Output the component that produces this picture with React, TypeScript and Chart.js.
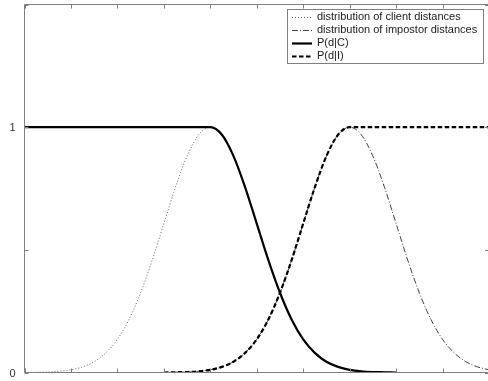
import React, { useEffect, useRef } from "react";
import { Chart, registerables } from "chart.js";

Chart.register(...registerables);

// distance axis samples
const clientX = [0, 0.25, 0.5, 0.75, 1, 1.25, 1.5, 1.75, 2, 2.25, 2.5, 2.75, 3, 3.25, 3.5, 3.75, 4, 4.25, 4.5, 4.75, 5, 5.25, 5.5, 5.75, 6, 6.25, 6.5, 6.75, 7, 7.25, 7.5, 7.75, 8];
const clientDist = [0.000, 0.001, 0.002, 0.005, 0.011, 0.023, 0.044, 0.080, 0.135, 0.216, 0.325, 0.458, 0.607, 0.755, 0.882, 0.969, 1.000, 0.969, 0.882, 0.755, 0.607, 0.458, 0.325, 0.216, 0.135, 0.080, 0.044, 0.023, 0.011, 0.005, 0.002, 0.001, 0.000];
const pdC = [1, 1, 1, 1, 1, 1, 1, 1, 1, 1, 1, 1, 1, 1, 1, 1, 1.000, 0.969, 0.882, 0.755, 0.607, 0.458, 0.325, 0.216, 0.135, 0.080, 0.044, 0.023, 0.011, 0.005, 0.002, 0.001, 0.000];

const impX = [3, 3.25, 3.5, 3.75, 4, 4.25, 4.5, 4.75, 5, 5.25, 5.5, 5.75, 6, 6.25, 6.5, 6.75, 7, 7.25, 7.5, 7.75, 8, 8.25, 8.5, 8.75, 9, 9.25, 9.5, 9.75, 10];
const impDist = [0.000, 0.001, 0.002, 0.005, 0.011, 0.023, 0.044, 0.080, 0.135, 0.216, 0.325, 0.458, 0.607, 0.755, 0.882, 0.969, 1.000, 0.969, 0.882, 0.755, 0.607, 0.458, 0.325, 0.216, 0.135, 0.080, 0.044, 0.023, 0.011];
const pdI = [0.000, 0.001, 0.002, 0.005, 0.011, 0.023, 0.044, 0.080, 0.135, 0.216, 0.325, 0.458, 0.607, 0.755, 0.882, 0.969, 1.000, 1, 1, 1, 1, 1, 1, 1, 1, 1, 1, 1, 1];

const labels = [
  "distribution of client distances",
  "distribution of impostor distances",
  "P(d|C)",
  "P(d|I)",
];
const xTicks = [0, 1, 2, 3, 4, 5, 6, 7, 8, 9, 10];
const yTicks = [0, 0.5, 1, 1.5];
const yTickLabels: Record<string, string> = { "0": "0", "1": "1" };

const pts = (xs: number[], ys: number[]) => xs.map((x, i) => ({ x, y: ys[i] }));

const framePlugin = {
  id: "frame",
  afterDatasetsDraw(chart: any) {
    const ctx = chart.ctx;
    const { left, right, top, bottom } = chart.chartArea;
    const xs = chart.scales.x;
    const ys = chart.scales.y;
    ctx.save();
    ctx.strokeStyle = "#808080";
    ctx.lineWidth = 1;
    ctx.setLineDash([]);
    ctx.beginPath();
    ctx.rect(left, top, right - left, bottom - top);
    ctx.stroke();
    ctx.beginPath();
    for (const t of xTicks) {
      const px = Math.round(xs.getPixelForValue(t)) + 0.5;
      ctx.moveTo(px, bottom);
      ctx.lineTo(px, bottom - 4);
      ctx.moveTo(px, top);
      ctx.lineTo(px, top + 4);
    }
    for (const t of yTicks) {
      const py = Math.round(ys.getPixelForValue(t)) + 0.5;
      ctx.moveTo(left, py);
      ctx.lineTo(left + 4, py);
      ctx.moveTo(right, py);
      ctx.lineTo(right - 4, py);
    }
    ctx.stroke();
    ctx.fillStyle = "#333";
    ctx.font = '11px "Liberation Sans", Arial, sans-serif';
    ctx.textAlign = "right";
    ctx.textBaseline = "middle";
    for (const t of yTicks) {
      const lab = yTickLabels[String(t)];
      if (lab) ctx.fillText(lab, left - 9, ys.getPixelForValue(t) + 1);
    }

    // legend
    const bx = 287.5, by = 9.5, bw = 196, bh = 54;
    ctx.fillStyle = "#fff";
    ctx.fillRect(bx, by, bw, bh);
    ctx.strokeStyle = "#808080";
    ctx.strokeRect(bx, by, bw, bh);
    const rows = [17, 30, 43, 56];
    chart.data.datasets.forEach((ds: any, i: number) => {
      const y = rows[i];
      ctx.save();
      ctx.strokeStyle = ds.borderColor;
      ctx.lineWidth = ds.borderWidth;
      ctx.setLineDash(ds.borderDash || []);
      ctx.beginPath();
      ctx.moveTo(292, y + 0.5);
      ctx.lineTo(312, y + 0.5);
      ctx.stroke();
      ctx.restore();
      ctx.fillStyle = "#222";
      ctx.textAlign = "left";
      ctx.textBaseline = "middle";
      ctx.font = '11px "Liberation Sans", Arial, sans-serif';
      ctx.fillText(ds.label, 317, y);
    });
    ctx.restore();
  },
};

export default function App() {
  const ref = useRef<HTMLCanvasElement>(null);
  useEffect(() => {
    if (!ref.current) return;
    const chart = new Chart(ref.current, {
      type: "line",
      data: {
        datasets: [
          {
            label: labels[0],
            data: pts(clientX, clientDist),
            borderColor: "#666",
            borderWidth: 1,
            borderDash: [1, 2],
            order: 1,
          },
          {
            label: labels[1],
            data: pts(impX, impDist),
            borderColor: "#444",
            borderWidth: 1,
            borderDash: [6, 2, 1, 2],
            order: 1,
          },
          {
            label: labels[2],
            data: pts(clientX, pdC),
            borderColor: "#000",
            borderWidth: 2.2,
            order: 0,
          },
          {
            label: labels[3],
            data: pts(impX, pdI),
            borderColor: "#000",
            borderWidth: 2.2,
            borderDash: [4.5, 2.5],
            order: 0,
          },
        ],
      },
      options: {
        responsive: false,
        animation: false,
        parsing: false as any,
        elements: {
          point: { radius: 0 },
          line: { cubicInterpolationMode: "monotone", fill: false },
        },
        layout: { padding: { left: 24.5, top: 4.5, right: 1, bottom: 8.5 } },
        scales: {
          x: { type: "linear", min: 0, max: 10, display: false },
          y: { type: "linear", min: 0, max: 1.5, display: false },
        },
        plugins: { legend: { display: false }, tooltip: { enabled: false } },
      },
      plugins: [framePlugin],
    });
    return () => chart.destroy();
  }, []);
  return (
    <div style={{ position: "fixed", left: 0, top: 0, width: 488, height: 381, overflow: "hidden", background: "#fff" }}>
      <canvas ref={ref} width={490} height={381} style={{ display: "block" }} />
    </div>
  );
}
